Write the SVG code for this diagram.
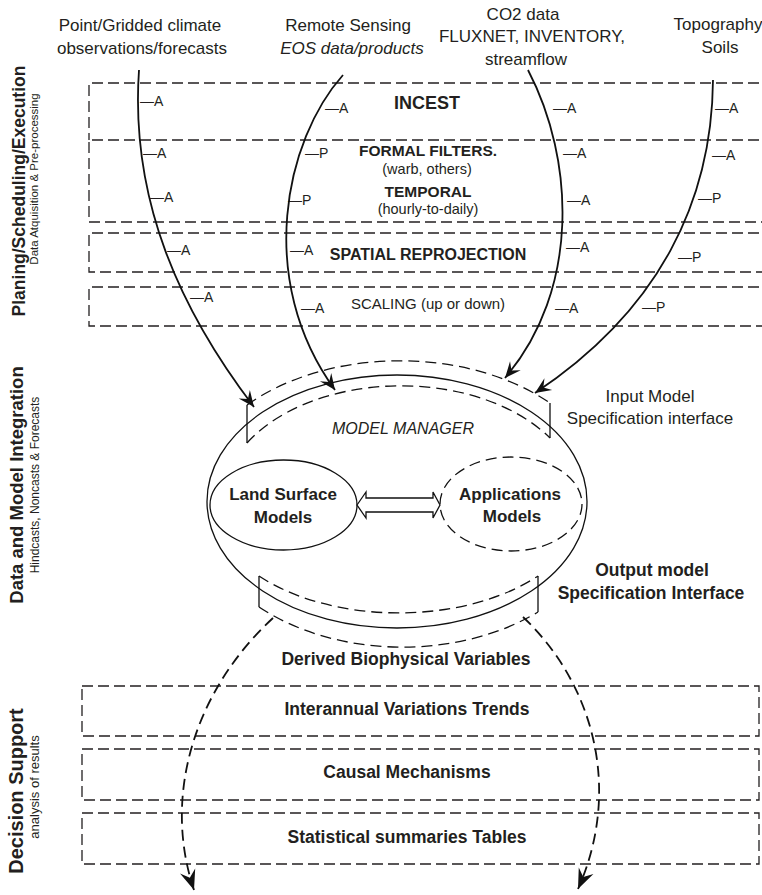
<svg xmlns="http://www.w3.org/2000/svg" width="762" height="895" viewBox="0 0 762 895">
<style>
text{font-family:"Liberation Sans",Arial,sans-serif;fill:#231f20}
.src{font-size:17px;text-anchor:middle}
.it{font-style:italic}
.b{font-weight:bold}
.mid{text-anchor:middle}
.lab{font-size:14px}
.box{fill:none;stroke:#231f20;stroke-width:1.3;stroke-dasharray:11 5}
.flow{fill:none;stroke:#111;stroke-width:1.8}
.dflow{fill:none;stroke:#111;stroke-width:1.8;stroke-dasharray:11 6}
.sol{fill:none;stroke:#111;stroke-width:1.3}
.dash{fill:none;stroke:#111;stroke-width:1.3;stroke-dasharray:11 6}
</style>
<defs>
<marker id="ah" viewBox="-17 -8 18 16" refX="0" refY="0" markerWidth="18" markerHeight="16" markerUnits="userSpaceOnUse" orient="auto" overflow="visible">
<path d="M0,0 L-16,-7 L-10,0 L-16,7 Z" fill="#111" stroke="none"/>
</marker>
<marker id="ah2" viewBox="-21 -9 22 18" refX="0" refY="0" markerWidth="22" markerHeight="18" markerUnits="userSpaceOnUse" orient="auto" overflow="visible">
<path d="M0,0 L-20,-8 L-13,0 L-20,8 Z" fill="#111" stroke="none"/>
</marker>
</defs>

<g id="side-labels">
<text class="b" font-size="17.5" text-anchor="middle" transform="translate(25,191) rotate(-90)">Planing/Scheduling/Execution</text>
<text font-size="11.5" text-anchor="middle" transform="translate(38,179) rotate(-90)">Data Atquisition &amp; Pre-processing</text>
<text class="b" font-size="18.5" text-anchor="middle" transform="translate(23,485) rotate(-90)">Data and Model Integration</text>
<text font-size="12" text-anchor="middle" transform="translate(39,485) rotate(-90)">Hindcasts, Noncasts &amp; Forecasts</text>
<text class="b" font-size="20" text-anchor="middle" transform="translate(23,791) rotate(-90)">Decision Support</text>
<text font-size="13" text-anchor="middle" transform="translate(39,787) rotate(-90)">analysis of results</text>
</g>

<g id="sources">
<text class="src" x="140" y="31">Point/Gridded climate</text>
<text class="src" x="142" y="54">observations/forecasts</text>
<text class="src" x="348" y="31">Remote Sensing</text>
<text class="src it" x="352" y="54">EOS data/products</text>
<text class="src" x="523" y="20">CO2 data</text>
<text class="src" x="532" y="42">FLUXNET, INVENTORY,</text>
<text class="src" x="526" y="65">streamflow</text>
<text class="src" font-size="15" x="718" y="30">Topography</text>
<text class="src" x="720" y="53">Soils</text>
</g>

<g id="incest">
<path class="box" d="M775,83 H89 V140"/>
<text class="b mid" font-size="18" x="427" y="109">INCEST</text>
</g>
<g id="filters-temporal">
<path class="box" d="M775,140 H89 V222 H775"/>
<text class="b mid" font-size="15.5" x="428" y="156">FORMAL FILTERS.</text>
<text class="mid" font-size="14.5" x="427" y="174">(warb, others)</text>
<text class="b mid" font-size="15.5" x="428" y="197">TEMPORAL</text>
<text class="mid" font-size="14.5" x="428" y="214">(hourly-to-daily)</text>
</g>
<g id="spatial">
<path class="box" d="M775,233 H89 V272 H775"/>
<text class="b mid" font-size="16" x="428" y="260">SPATIAL REPROJECTION</text>
</g>
<g id="scaling">
<path class="box" d="M775,287 H89 V326 H775"/>
<text class="mid" font-size="15" x="428" y="309">SCALING (up or down)</text>
</g>

<g id="tags" class="lab">
<text x="140" y="106">—A</text>
<text x="143" y="158">—A</text>
<text x="150" y="202">—A</text>
<text x="167" y="255">—A</text>
<text x="190" y="302">—A</text>
<text x="325" y="113">—A</text>
<text x="305" y="158">—P</text>
<text x="288" y="205">—P</text>
<text x="290" y="255">—A</text>
<text x="301" y="313">—A</text>
<text x="553" y="113">—A</text>
<text x="563" y="158">—A</text>
<text x="567" y="205">—A</text>
<text x="566" y="252">—A</text>
<text x="555" y="313">—A</text>
<text x="715" y="113">—A</text>
<text x="712" y="160">—A</text>
<text x="698" y="203">—P</text>
<text x="678" y="262">—P</text>
<text x="642" y="312">—P</text>
</g>

<g id="model-manager">
<ellipse class="sol" cx="397" cy="501.5" rx="190" ry="126.5"/>
<text class="it mid" font-size="16" x="403" y="434">MODEL MANAGER</text>
</g>

<g id="input-interface">
<path class="dash" d="M247,405 A210,140.5 0 0,1 550,403"/>
<path class="dash" d="M247,443 A178,115 0 0,1 550,438"/>
<path class="sol" d="M247,405 V443 M550,403 V438"/>
<text class="mid" font-size="17" x="650" y="402">Input Model</text>
<text class="mid" font-size="17" x="650" y="424">Specification interface</text>
</g>

<g id="output-interface">
<path class="dash" d="M259,576 A187,110.5 0 0,0 538,576"/>
<path class="dash" d="M259,607 A208,145.5 0 0,0 538,612"/>
<path class="sol" d="M259,576 V607 M538,576 V612"/>
<text class="b mid" font-size="17.5" x="652" y="576">Output model</text>
<text class="b mid" font-size="17.5" x="651" y="599">Specification Interface</text>
</g>

<g id="land-surface">
<ellipse class="sol" cx="283.5" cy="505" rx="73.5" ry="45"/>
<text class="b mid" font-size="17" x="283" y="500">Land Surface</text>
<text class="b mid" font-size="17" x="283" y="523">Models</text>
</g>

<g id="applications">
<ellipse class="dash" cx="511" cy="504" rx="71" ry="47"/>
<text class="b mid" font-size="17" x="510" y="500">Applications</text>
<text class="b mid" font-size="17" x="512" y="522">Models</text>
</g>

<g id="derived">
<text class="b mid" font-size="17.5" x="406" y="665">Derived Biophysical Variables</text>
</g>
<g id="interannual">
<rect class="box" x="82" y="686" width="677" height="50"/>
<text class="b mid" font-size="17.5" x="407" y="715">Interannual Variations Trends</text>
</g>
<g id="causal">
<rect class="box" x="82" y="749" width="677" height="51"/>
<text class="b mid" font-size="17.5" x="407" y="778">Causal Mechanisms</text>
</g>
<g id="statistical">
<rect class="box" x="82" y="813" width="677" height="51"/>
<text class="b mid" font-size="17.5" x="407" y="843">Statistical summaries Tables</text>
</g>

<g id="connectors">
<path class="flow" d="M139,70 C130,200 180,310 254,407" marker-end="url(#ah)"/>
<path class="flow" d="M343,75 C285,140 255,280 335,390" marker-end="url(#ah)"/>
<path class="flow" d="M528,70 C575,160 580,290 505,378" marker-end="url(#ah)"/>
<path class="flow" d="M713,80 C712,200 660,310 535,393" marker-end="url(#ah)"/>
<path d="M357,505 L366,492 L366,498 L433,498 L433,492 L440,505 L433,518 L433,512 L366,512 L366,518 Z" fill="#fff" stroke="#111" stroke-width="1.3"/>
<path class="dflow" d="M273,618 C195,690 162,795 194,890" marker-end="url(#ah2)"/>
<path class="dflow" d="M523,617 C590,680 624,785 578,889" marker-end="url(#ah2)"/>
</g>
</svg>
